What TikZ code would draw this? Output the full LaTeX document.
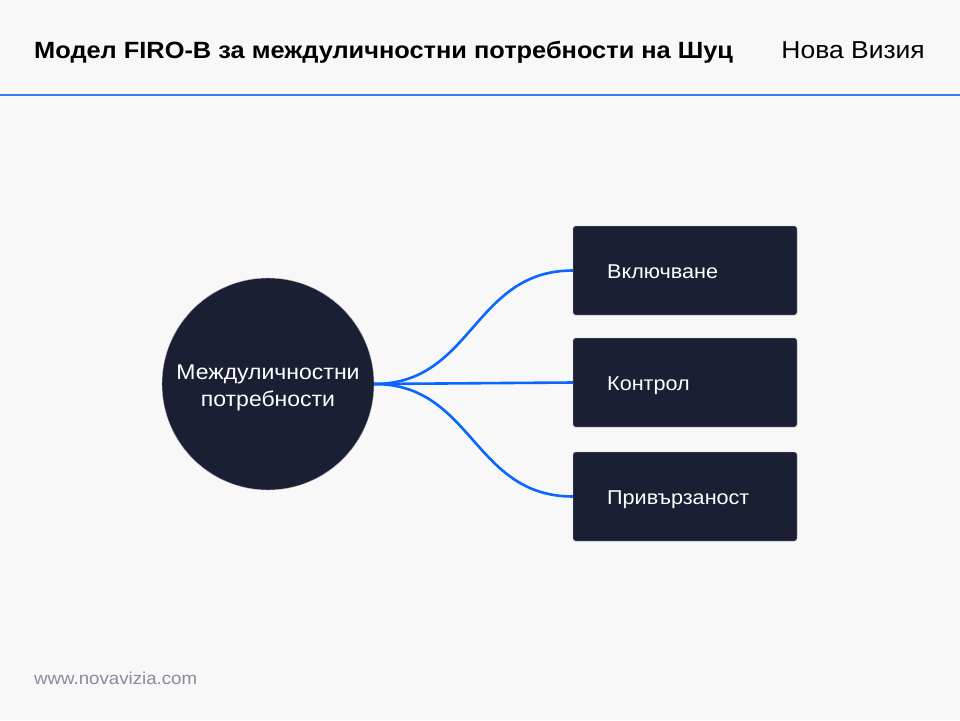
\documentclass[tikz,border=0pt]{standalone}
\usepackage{fontspec}
\setmainfont{Liberation Sans}[FakeStretch=1.08]
\definecolor{bg}{HTML}{F8F8F9}
\definecolor{navy}{HTML}{1B1F33}
\definecolor{edge}{HTML}{0A66FF}
\definecolor{rule}{HTML}{2F7DF6}
\definecolor{foot}{HTML}{8A8A9C}
\definecolor{rim}{HTML}{B8BCC6}
\begin{document}
\begin{tikzpicture}[x=1pt,y=-1pt,
  hub/.style={circle,fill=navy,draw=rim,line width=0.4pt,minimum size=212pt,inner sep=0pt},
  hubtext/.style={text=white,align=center,inner sep=0pt,font=\fontsize{21.3}{27}\selectfont},
  leaf/.style={rectangle,rounded corners=2.5pt,fill=navy,draw=rim,line width=0.4pt,minimum width=224pt,minimum height=89pt},
  leaftext/.style={anchor=base west,text=white,font=\fontsize{20}{22}\selectfont,inner sep=0pt},
  link/.style={draw=edge,line width=2.6pt}]
\fill[bg] (0,0) rectangle (960,720);
\useasboundingbox (0,0) rectangle (960,720);
\node[anchor=base west,font=\bfseries\fontsize{23.5}{26}\selectfont,inner sep=0pt] (title) at (34,58) {Модел FIRO-B за междуличностни потребности на Шуц};
\node[anchor=base east,font=\fontsize{24.5}{26}\selectfont,inner sep=0pt] (brand) at (925,58) {Нова Визия};
\draw[rule,line width=2pt] (0,95) -- (960,95);
\node[hub] (c) at (268,384) {};
\node[hubtext,anchor=base] (ct1) at (268,379) {Междуличностни};
\node[hubtext,anchor=base] (ct2) at (268,406) {потребности};
\node[leaf] (b1) at (685,270.5) {};
\node[leaf] (b2) at (685,382.5) {};
\node[leaf] (b3) at (685,496.5) {};
\node[leaftext] (t1) at (607,278) {Включване};
\node[leaftext] (t2) at (607,390) {Контрол};
\node[leaftext] (t3) at (607,504) {Привързаност};
\draw[link] (c.east) .. controls (473,384) and (473,270.5) .. (b1.west);
\draw[link] (c.east) -- (b2.west);
\draw[link] (c.east) .. controls (473,384) and (473,496.5) .. (b3.west);
\node[anchor=base west,text=foot,font=\fontsize{17.3}{20}\selectfont,inner sep=0pt] (url) at (34,684) {www.novavizia.com};
\end{tikzpicture}
\end{document}
